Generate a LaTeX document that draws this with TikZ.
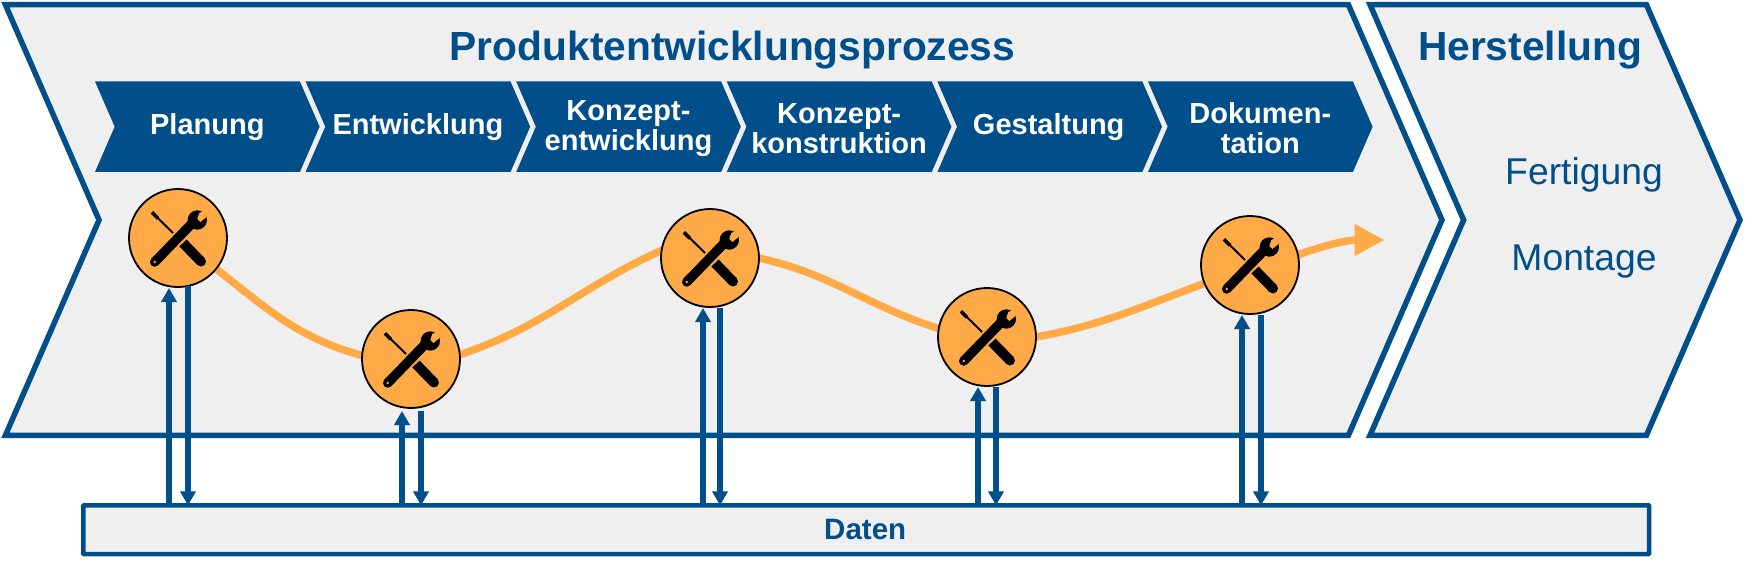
\documentclass[tikz,border=0pt]{standalone}
\usepackage{fontspec}
\setmainfont{Liberation Sans}
\usetikzlibrary{arrows.meta}
\usetikzlibrary{shapes.symbols}
\usetikzlibrary{backgrounds}
\pgfdeclarelayer{lines}
\pgfsetlayers{background,lines,main}
\definecolor{prozessblau}{RGB}{0,78,138}
\definecolor{prozessgrau}{RGB}{239,239,239}
\definecolor{prozessorange}{RGB}{255,170,71}
\tikzset{
	phase/.style={shape=signal, signal from=west, signal to=east, signal pointer angle=133, draw=prozessblau, line width=5.5, fill=prozessgrau, outer sep=0, inner sep=0, minimum height=430.7},
	stepbox/.style={shape=signal, signal from=west, signal to=east, signal pointer angle=133, fill=prozessblau, text=white, outer sep=0, inner sep=0, minimum width=224.6, minimum height=90.5, align=center, font=\bfseries\fontsize{29}{30}\selectfont},
	heading/.style={text=prozessblau, font=\bfseries\fontsize{40.7}{44}\selectfont},
	plain/.style={text=prozessblau, font=\fontsize{37.3}{40}\selectfont},
	toolnode/.style={circle, draw=black, line width=1.8, fill=prozessorange, minimum size=98, inner sep=0, outer sep=0},
	curve/.style={draw=prozessorange, line width=7.5, shorten <=-3pt, shorten >=-3pt},
	link/.style={draw=prozessblau, line width=5.2, -{Triangle[width=15pt,length=14pt]}},
	tools/.pic={
		\draw[line width=9.5, line cap=round] (-23.3,24) -- (17,-17.7);
		\fill (19.3,-18) circle (9.7);
		\fill[prozessorange] (21.3,-25) -- (19.3,-19) -- (22.3,-16) -- (27.7,-20.3) -- (33,-31) -- cycle;
		\fill[prozessorange] (-23.3,24) circle (1.4);
		\draw[line width=2] (-26,-25.7) -- (-5,-5);
		\draw[line width=3.5] (-26,-25.7) -- (-20,-19.7);
		\draw[line width=10] (5,5) -- (23,23.5);
		\fill (23,23.5) circle (5);
	}
}
\begin{document}
\begin{tikzpicture}[x=1pt,y=-1pt]
	\useasboundingbox (0,0) rectangle (1745,566);
	%coordinates
	\coordinate (end) at (1384.5,240);
	
	%phases
	\begin{pgfonlayer}{background}
	\node[phase, minimum width=1436.6] (entw) at (723.7,220) {};
	\node[phase, minimum width=370] (herst) at (1555,220) {};
	\end{pgfonlayer}
	\node[heading] (titleA) at (732.5,50) {Produktentwicklungsprozess};
	\node[heading] (titleB) at (1530,50) {Herstellung};
	\node[plain] (fert) at (1584,175.3) {Fertigung};
	\node[plain] (mont) at (1584,261.3) {Montage};
	
	%steps
	\node[stepbox] (plan) at (207.3,126.7) {Planung};
	\node[stepbox] (entwk) at (417.9,126.7) {Entwicklung};
	\node[stepbox] (kent) at (628.5,126.7) {\rule{0pt}{24pt}Konzept-\\entwicklung};
	\node[stepbox] (kkon) at (839.1,126.7) {\rule{0pt}{24pt}Konzept-\\konstruktion};
	\node[stepbox] (gest) at (1049.7,126.7) {\hspace{-2pt}Gestaltung};
	\node[stepbox] (doku) at (1260.3,126.7) {\rule{0pt}{24pt}Dokumen-\\tation};
	
	%data
	\node[draw=prozessblau, line width=4.5, fill=prozessgrau, minimum width=1565.6, minimum height=48.6, outer sep=0, inner sep=0, rounded corners=0.5, text=prozessblau, font=\bfseries\fontsize{29.5}{32}\selectfont] (data) at (866.2,529.7) {\hspace{-2pt}Daten};
	
	%tools
	\node[toolnode] (tA) at (178,238) {};
	\node[toolnode] (tB) at (411,359) {};
	\node[toolnode] (tC) at (710,258) {};
	\node[toolnode] (tD) at (987,337) {};
	\node[toolnode] (tE) at (1250,265) {};
	\pic at (tA) {tools};
	\pic at (tB) {tools};
	\pic at (tC) {tools};
	\pic at (tD) {tools};
	\pic at (tE) {tools};
	
	%curve
	\begin{pgfonlayer}{lines}
	\draw[curve] (tA.-39) to[out=-38,in=165] (tB.176);
	\draw[curve] (tB.5) to[out=18,in=204] (tC.171);
	\draw[curve] (tC.0) to[out=-12,in=163] (tD.170);
	\draw[curve] (tD.0) to[out=10,in=200] (tE.202);
	\draw[curve, shorten >=0pt, -{Triangle[width=30pt,length=30pt]}] (tE.12) to[out=20,in=180] (end);
	\end{pgfonlayer}
	
	%links
	\draw[link] ([xshift=-9]tA |- data.north) -- ([xshift=-9,yshift=-1]tA.south);
	\draw[link] ([xshift=10,yshift=1]tA.south) -- ([xshift=10]tA |- data.north);
	\draw[link] ([xshift=-9]tB |- data.north) -- ([xshift=-9,yshift=-3]tB.south);
	\draw[link] ([xshift=10,yshift=-3]tB.south) -- ([xshift=10]tB |- data.north);
	\draw[link] ([xshift=-7]tC |- data.north) -- ([xshift=-7,yshift=-1]tC.south);
	\draw[link] ([xshift=10,yshift=-1]tC.south) -- ([xshift=10]tC |- data.north);
	\draw[link] ([xshift=-9]tD |- data.north) -- ([xshift=-9,yshift=-1]tD.south);
	\draw[link] ([xshift=9,yshift=-1]tD.south) -- ([xshift=9]tD |- data.north);
	\draw[link] ([xshift=-8]tE |- data.north) -- ([xshift=-8,yshift=-1]tE.south);
	\draw[link] ([xshift=11,yshift=-1]tE.south) -- ([xshift=11]tE |- data.north);
\end{tikzpicture}
\end{document}
